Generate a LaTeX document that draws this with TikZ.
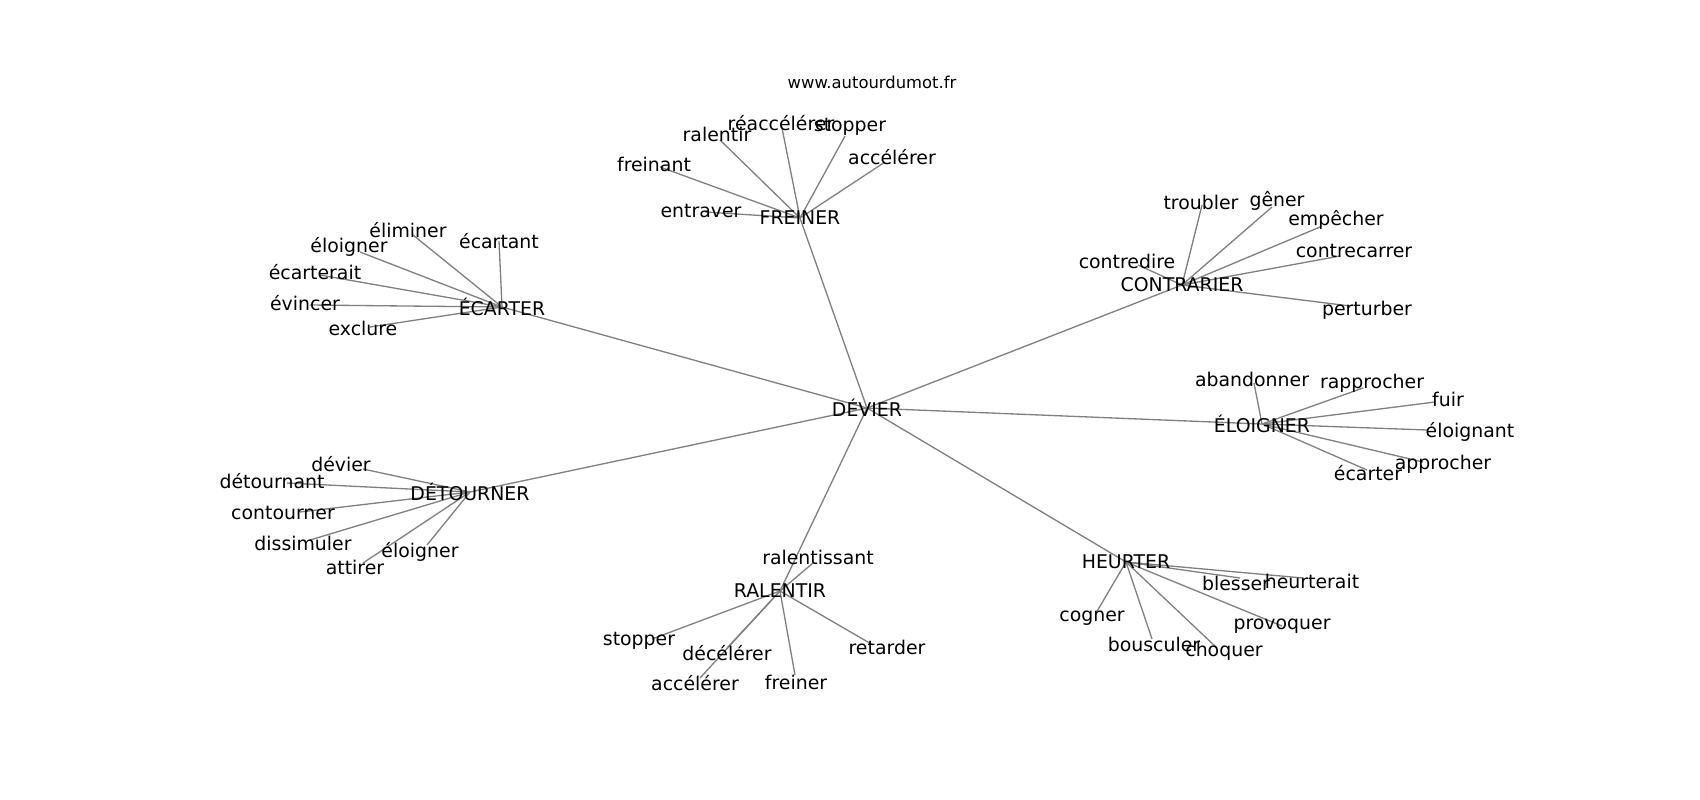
\documentclass[tikz,border=0pt]{standalone}
\usepackage{fontspec}
\setmainfont{DejaVu Sans}
\usetikzlibrary{backgrounds}
\tikzset{
  word/.style={inner sep=0pt, font=\fontsize{13.6bp}{16bp}\selectfont},
  link/.style={draw=black!50, line width=0.95bp},
}

\begin{document}
\begin{tikzpicture}[x=0.72bp, y=-0.72bp]
		\useasboundingbox (0, 0) rectangle (1700, 800);
		%%%%% HUBS %%%%%
		\node[inner sep=0pt, font=\fontsize{11.8bp}{14bp}\selectfont] (site) at (872, 82) {www.autourdumot.fr};
		\node[word] (dev) at (867, 408) {DÉVIER};
		\node[word] (frein) at (800, 218) {FREINER};
		\node[word] (ecart) at (502, 307) {ÉCARTER};
		\node[word] (contr) at (1182, 285) {CONTRARIER};
		\node[word] (eloig) at (1262, 424) {ÉLOIGNER};
		\node[word] (detour) at (470, 492) {DÉTOURNER};
		\node[word] (ralent) at (780, 591) {RALENTIR};
		\node[word] (heurt) at (1126, 562) {HEURTER};
		
		%%%%% FREINER %%%%%
		\node[word] (f-reacc) at (781, 123) {réaccélérer};
		\node[word] (f-ralent) at (717, 134) {ralentir};
		\node[word] (f-stop) at (850, 127) {stopper};
		\node[word] (f-freinant) at (654, 164) {freinant};
		\node[word] (f-acc) at (892, 157) {accélérer};
		\node[word] (f-entrav) at (701, 211) {entraver};
		
		%%%%% ÉCARTER %%%%%
		\node[word] (e-elim) at (408, 230) {éliminer};
		\node[word] (e-ecartant) at (499, 241) {écartant};
		\node[word] (e-eloig) at (349, 247) {éloigner};
		\node[word] (e-ecarterait) at (315, 272) {écarterait};
		\node[word] (e-evinc) at (305, 303) {évincer};
		\node[word] (e-exclu) at (363, 328) {exclure};
		
		%%%%% CONTRARIER %%%%%
		\node[word] (c-troub) at (1201, 202) {troubler};
		\node[word] (c-gener) at (1277, 201) {gêner};
		\node[word] (c-empech) at (1336, 220) {empêcher};
		\node[word] (c-contrec) at (1354, 251) {contrecarrer};
		\node[word] (c-contred) at (1127, 261) {contredire};
		\node[word] (c-pert) at (1367, 310) {perturber};
		
		%%%%% ÉLOIGNER %%%%%
		\node[word] (l-aband) at (1252, 379) {abandonner};
		\node[word] (l-rappr) at (1372, 383) {rapprocher};
		\node[word] (l-fuir) at (1448, 399) {fuir};
		\node[word] (l-eloignant) at (1470, 432) {éloignant};
		\node[word] (l-appr) at (1443, 464) {approcher};
		\node[word] (l-ecart) at (1368, 473) {écarter};
		
		%%%%% DÉTOURNER %%%%%
		\node[word] (d-dev) at (341, 464) {dévier};
		\node[word] (d-detournant) at (272, 481) {détournant};
		\node[word] (d-contour) at (283, 513) {contourner};
		\node[word] (d-dissim) at (303, 543) {dissimuler};
		\node[word] (d-eloig) at (420, 552) {éloigner};
		\node[word] (d-attir) at (355, 567) {attirer};
		
		%%%%% RALENTIR %%%%%
		\node[word] (r-ralentissant) at (818, 557) {ralentissant};
		\node[word] (r-stop) at (639, 641) {stopper};
		\node[word] (r-decel) at (727, 653) {décélérer};
		\node[word] (r-acc) at (695, 683) {accélérer};
		\node[word] (r-frein) at (796, 682) {freiner};
		\node[word] (r-retard) at (887, 647) {retarder};
		
		%%%%% HEURTER %%%%%
		\node[word] (h-bless) at (1236, 583) {blesser};
		\node[word] (h-heurterait) at (1312, 581) {heurterait};
		\node[word] (h-cogn) at (1092, 618) {cogner};
		\node[word] (h-provoq) at (1282, 626) {provoquer};
		\node[word] (h-bouscul) at (1154, 644) {bousculer};
		\node[word] (h-choq) at (1224, 651) {choquer};
		
		%%%%% EDGES %%%%%
		\begin{scope}[on background layer]
		\draw[link] (dev.center) -- (frein.center);
		\draw[link] (dev.center) -- (ecart.center);
		\draw[link] (dev.center) -- (contr.center);
		\draw[link] (dev.center) -- (eloig.center);
		\draw[link] (dev.center) -- (detour.center);
		\draw[link] (dev.center) -- (ralent.center);
		\draw[link] (dev.center) -- (heurt.center);
		
		\draw[link] (frein.center) -- (f-reacc.center);
		\draw[link] (frein.center) -- ([shift={(3,6)}]f-ralent.center);
		\draw[link] (frein.center) -- ([shift={(-5,9)}]f-stop.center);
		\draw[link] (frein.center) -- ([shift={(6,3)}]f-freinant.center);
		\draw[link] (frein.center) -- ([shift={(-7,5)}]f-acc.center);
		\draw[link] (frein.center) -- ([shift={(4,1)}]f-entrav.center);
		
		\draw[link] (ecart.center) -- ([shift={(5,5)}]e-elim.center);
		\draw[link] (ecart.center) -- (e-ecartant.center);
		\draw[link] (ecart.center) -- ([shift={(11,5)}]e-eloig.center);
		\draw[link] (ecart.center) -- ([shift={(5,3)}]e-ecarterait.center);
		\draw[link] (ecart.center) -- ([shift={(5,2)}]e-evinc.center);
		\draw[link] (ecart.center) -- ([shift={(7,-1)}]e-exclu.center);
		
		\draw[link] (contr.center) -- ([shift={(1,3)}]c-troub.center);
		\draw[link] (contr.center) -- ([shift={(-5,6)}]c-gener.center);
		\draw[link] (contr.center) -- ([shift={(-16,7)}]c-empech.center);
		\draw[link] (contr.center) -- ([shift={(-14,5)}]c-contrec.center);
		\draw[link] (contr.center) -- ([shift={(11,4)}]c-contred.center);
		\draw[link] (contr.center) -- ([shift={(-17,-4)}]c-pert.center);
		
		\draw[link] (eloig.center) -- ([shift={(2,4)}]l-aband.center);
		\draw[link] (eloig.center) -- ([shift={(-9,5)}]l-rappr.center);
		\draw[link] (eloig.center) -- ([shift={(-13,3)}]l-fuir.center);
		\draw[link] (eloig.center) -- ([shift={(-43,-2)}]l-eloignant.center);
		\draw[link] (eloig.center) -- ([shift={(-20,-2)}]l-appr.center);
		\draw[link] (eloig.center) -- ([shift={(-1,-3)}]l-ecart.center);
		
		\draw[link] (detour.center) -- ([shift={(22,5)}]d-dev.center);
		\draw[link] (detour.center) -- ([shift={(15,2)}]d-detournant.center);
		\draw[link] (detour.center) -- ([shift={(17,-1)}]d-contour.center);
		\draw[link] (detour.center) -- ([shift={(7,-3)}]d-dissim.center);
		\draw[link] (detour.center) -- ([shift={(7,-7)}]d-eloig.center);
		\draw[link] (detour.center) -- ([shift={(8,-4)}]d-attir.center);
		
		\draw[link] (ralent.center) -- ([shift={(-5,6)}]r-ralentissant.center);
		\draw[link] (ralent.center) -- ([shift={(13,-2)}]r-stop.center);
		\draw[link] (ralent.center) -- ([shift={(0,-5)}]r-decel.center);
		\draw[link] (ralent.center) -- ([shift={(5,-5)}]r-acc.center);
		\draw[link] (ralent.center) -- ([shift={(-1,-7)}]r-frein.center);
		\draw[link] (ralent.center) -- ([shift={(-14,-2)}]r-retard.center);
		
		\draw[link] (heurt.center) -- ([shift={(4,-5)}]h-bless.center);
		\draw[link] (heurt.center) -- ([shift={(-9,-3)}]h-heurterait.center);
		\draw[link] (heurt.center) -- ([shift={(4,-5)}]h-cogn.center);
		\draw[link] (heurt.center) -- (h-provoq.center);
		\draw[link] (heurt.center) -- ([shift={(-2,-5)}]h-bouscul.center);
		\draw[link] (heurt.center) -- ([shift={(-7,-3)}]h-choq.center);
		\end{scope}
	\end{tikzpicture}
\end{document}
